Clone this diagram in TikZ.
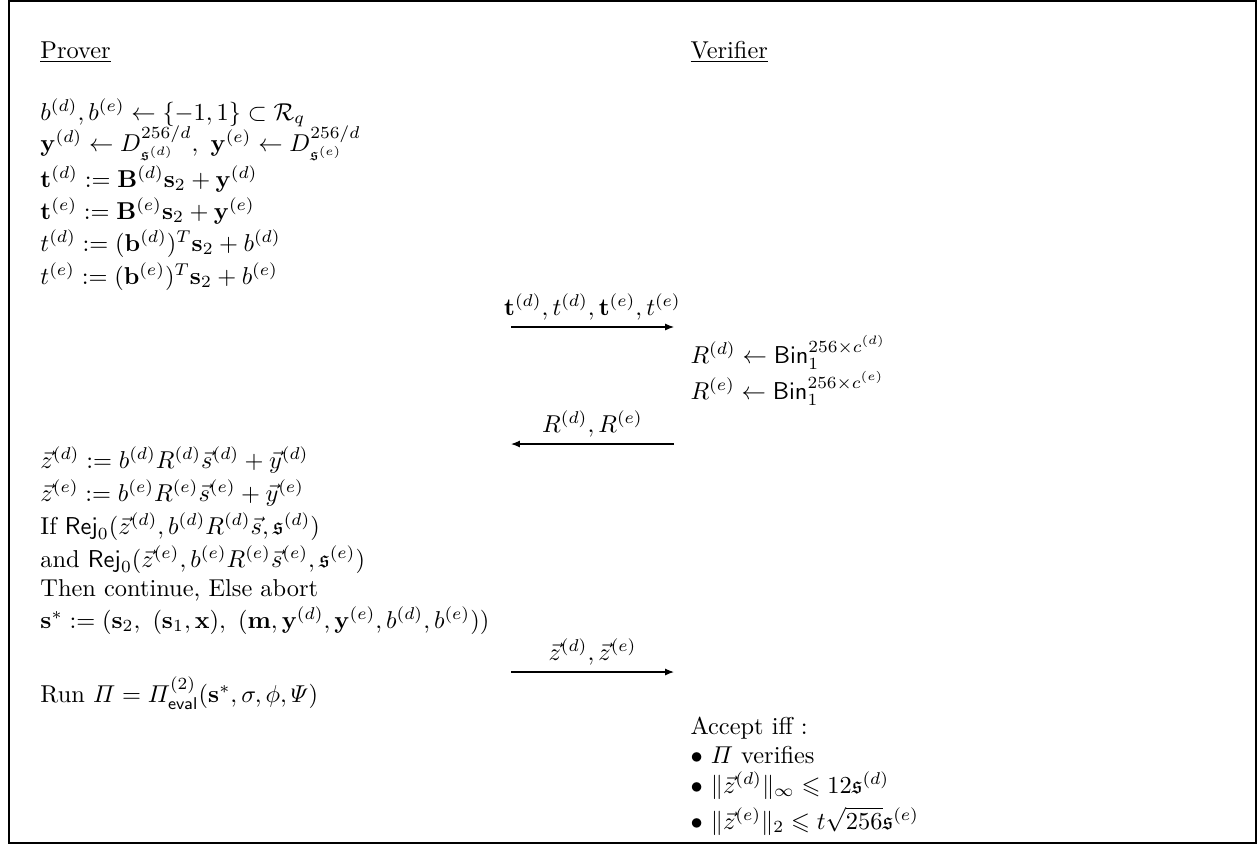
\documentclass[tikz,border=0pt]{standalone}
\usepackage{amsmath,amssymb}
\usepackage{tikz}
\usetikzlibrary{arrows.meta}
\tikzset{
  txt/.style={anchor=base west,inner sep=0pt},
  msg/.style={-{Latex[length=3.6pt,width=2.8pt]},line width=0.45pt},
  msglabel/.style={above,inner sep=2.5pt},
  frame/.style={draw=black,line width=0.6pt}
}

\begin{document}
\begin{tikzpicture}[x=0.41pt,y=-0.41pt]
  \useasboundingbox (0,0) rectangle (1260,846);
  \draw[frame] (9,1) rectangle (1256,843);
  % headers
  \node[txt] (prover) at (40,58) {\underline{Prover}};
  \node[txt] (verifier) at (690,58) {\underline{Verifier}};
  % prover, first move
  \node[txt] (bsample) at (40,120) {$b^{(d)},b^{(e)}\leftarrow\{-1,1\}\subset\mathcal{R}_q$};
  \node[txt] (ysample) at (40,151) {$\mathbf{y}^{(d)}\leftarrow D_{\mathfrak{s}^{(d)}}^{256/d},\ \mathbf{y}^{(e)}\leftarrow D_{\mathfrak{s}^{(e)}}^{256/d}$};
  \node[txt] (tvecd) at (40,187) {$\mathbf{t}^{(d)}:=\mathbf{B}^{(d)}\mathbf{s}_2+\mathbf{y}^{(d)}$};
  \node[txt] (tvece) at (40,219) {$\mathbf{t}^{(e)}:=\mathbf{B}^{(e)}\mathbf{s}_2+\mathbf{y}^{(e)}$};
  \node[txt] (tscald) at (40,251) {$t^{(d)}:=(\mathbf{b}^{(d)})^T\mathbf{s}_2+b^{(d)}$};
  \node[txt] (tscale) at (40,284) {$t^{(e)}:=(\mathbf{b}^{(e)})^T\mathbf{s}_2+b^{(e)}$};
  % messages
  \coordinate (sendA) at (511,327);
  \coordinate (recvA) at (674,327);
  \draw[msg] (sendA) -- node[msglabel] (commit) {$\mathbf{t}^{(d)},t^{(d)},\mathbf{t}^{(e)},t^{(e)}$} (recvA);
  % verifier challenge
  \node[txt] (chald) at (690,363) {$R^{(d)}\leftarrow\mathsf{Bin}_1^{256\times c^{(d)}}$};
  \node[txt] (chale) at (690,399) {$R^{(e)}\leftarrow\mathsf{Bin}_1^{256\times c^{(e)}}$};
  \coordinate (sendB) at (674,444);
  \coordinate (recvB) at (511,444);
  \draw[msg] (sendB) -- node[msglabel] (chal) {$R^{(d)},R^{(e)}$} (recvB);
  % prover, response
  \node[txt] (zd) at (40,468) {$\vec{z}^{(d)}:=b^{(d)}R^{(d)}\vec{s}^{(d)}+\vec{y}^{(d)}$};
  \node[txt] (ze) at (40,501) {$\vec{z}^{(e)}:=b^{(e)}R^{(e)}\vec{s}^{(e)}+\vec{y}^{(e)}$};
  \node[txt] (rejd) at (40,534) {If $\mathsf{Rej}_0(\vec{z}^{(d)},b^{(d)}R^{(d)}\vec{s},\mathfrak{s}^{(d)})$};
  \node[txt] (reje) at (40,567) {and $\mathsf{Rej}_0(\vec{z}^{(e)},b^{(e)}R^{(e)}\vec{s}^{(e)},\mathfrak{s}^{(e)})$};
  \node[txt] (cont) at (40,596) {Then continue, Else abort};
  \node[txt] (sstar) at (40,628) {$\mathbf{s}^*:=(\mathbf{s}_2,\ (\mathbf{s}_1,\mathbf{x}),\ (\mathbf{m},\mathbf{y}^{(d)},\mathbf{y}^{(e)},b^{(d)},b^{(e)}))$};
  \coordinate (sendC) at (511,672);
  \coordinate (recvC) at (674,672);
  \draw[msg] (sendC) -- node[msglabel] (resp) {$\vec{z}^{(d)},\vec{z}^{(e)}$} (recvC);
  \node[txt] (runpi) at (40,702) {Run $\varPi=\varPi^{(2)}_{\mathsf{eval}}(\mathbf{s}^*,\sigma,\phi,\varPsi)$};
  % verifier, decision
  \node[txt] (accept) at (690,734) {Accept iff :};
  \node[txt] (accpi) at (690,763) {$\bullet$ $\varPi$ verifies};
  \node[txt] (accinf) at (690,793) {$\bullet$ $\|\vec{z}^{(d)}\|_\infty\leqslant 12\mathfrak{s}^{(d)}$};
  \node[txt] (acctwo) at (690,829) {$\bullet$ $\|\vec{z}^{(e)}\|_2\leqslant t\sqrt{256}\mathfrak{s}^{(e)}$};
\end{tikzpicture}
\end{document}
